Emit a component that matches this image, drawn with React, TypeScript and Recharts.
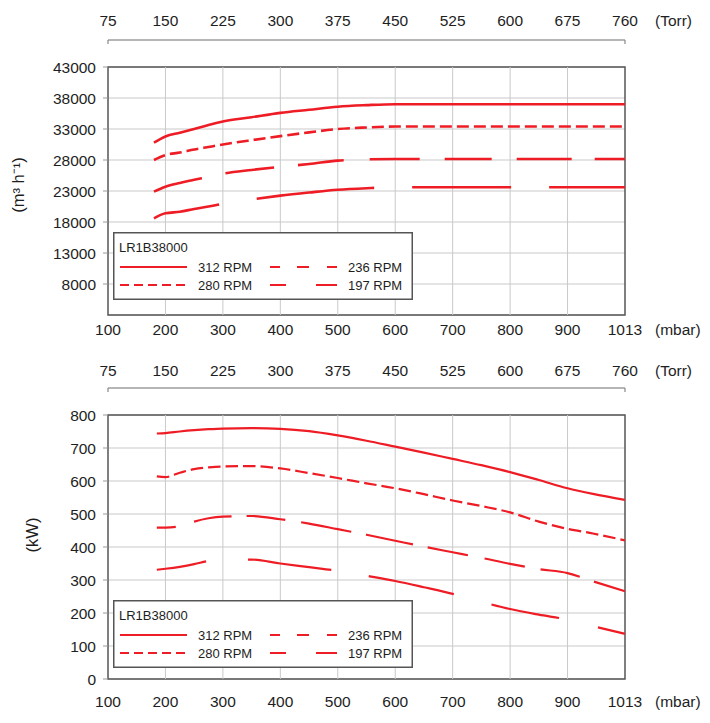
import {
  LineChart, Line, XAxis, YAxis, CartesianGrid,
  Legend, ReferenceLine, ReferenceArea,
} from 'recharts';

const FONT = '"Liberation Sans", Arial, sans-serif';
const RED = '#ee1c24';
const INK = '#1e1e1e';
const GRID = '#c9c9c9';
const MODEL = 'LR1B38000';

// axis labels
const mbarTicks = [100, 200, 300, 400, 500, 600, 700, 800, 900, 1013];
const torrTicks = ['75', '150', '225', '300', '375', '450', '525', '600', '675', '760'];
const flowTicks = [8000, 13000, 18000, 23000, 28000, 33000, 38000, 43000];
const powerTicks = [0, 100, 200, 300, 400, 500, 600, 700, 800];

// pumping speed (m3/h)
const flowMbar = [180, 200, 225, 250, 275, 300, 350, 400, 450, 500, 550, 600, 700, 800, 900, 1013];
const flow312 = [30800, 31800, 32400, 33000, 33650, 34200, 34900, 35600, 36100, 36600, 36850, 37000, 37000, 37000, 37000, 37000];
const flow280 = [28000, 28800, 29200, 29700, 30100, 30500, 31200, 31850, 32450, 33000, 33250, 33400, 33400, 33400, 33400, 33400];
const flow236 = [22900, 23700, 24300, 24800, 25300, 25800, 26400, 26900, 27350, 27900, 28100, 28150, 28150, 28150, 28150, 28150];
const flow197 = [18600, 19400, 19650, 20100, 20500, 20950, 21650, 22250, 22750, 23200, 23450, 23600, 23600, 23600, 23600, 23600];

// power (kW)
const powerMbar = [185, 200, 225, 250, 275, 300, 350, 400, 450, 500, 550, 600, 650, 700, 750, 800, 850, 900, 950, 1013];
const power312 = [744, 745, 750, 754, 757, 759, 760, 758, 751, 738, 722, 704, 686, 667, 648, 627, 603, 578, 561, 543];
const power280 = [614, 612, 625, 636, 641, 644, 645, 638, 624, 609, 593, 578, 560, 541, 524, 505, 477, 455, 441, 420];
const power236 = [459, 459, 463, 477, 487, 492, 494, 484, 471, 454, 437, 419, 401, 384, 367, 349, 333, 321, 296, 266];
const power197 = [331, 334, 340, 348, 358, 362, 362, 350, 339, 328, 313, 297, 278, 258, 234, 212, 195, 180, 160, 137];

const series = [
  { key: 'r312', name: '312 RPM' },
  { key: 'r280', name: '280 RPM' },
  { key: 'r236', name: '236 RPM' },
  { key: 'r197', name: '197 RPM' },
];

// the last gridline is 1013 mbar but sits one step after 900
const xPos = (m: number) => (m <= 900 ? m : 900 + ((m - 900) * 100) / 113);
const tickPos = mbarTicks.map(xPos);
const mbarLabel = (v: number) => String(mbarTicks[tickPos.indexOf(v)] ?? '');
const torrLabel = (v: number) => torrTicks[tickPos.indexOf(v)] ?? '';

const flowData = flowMbar.map((m, i) => ({
  x: xPos(m), r312: flow312[i], r280: flow280[i], r236: flow236[i], r197: flow197[i],
}));
const powerData = powerMbar.map((m, i) => ({
  x: xPos(m), r312: power312[i], r280: power280[i], r236: power236[i], r197: power197[i],
}));

const flowDash: Record<string, string | undefined> = {
  r312: undefined,
  r280: '12 5',
  r236: '50 24 49 24 46 26 50 25 47 25 55 23 60',
  r197: '67 38 118 38 99 38 100',
};
const powerDash: Record<string, string | undefined> = {
  r312: undefined,
  r280: '12.5 5',
  r236: '19 19 38 15 39 16 51 15 48 15 41 17 41 16 40 15 40',
  r197: '50 42 84 38 87 39 69 40 40',
};
const legendDash: Record<string, string | undefined> = {
  r312: undefined,
  r280: '9 5',
  r236: '10 17 12 18 10',
  r197: '16 30 21',
};

const tickStyle = { fontSize: 15.5, fill: INK, fontFamily: FONT };

function LegendBox() {
  return (
    <svg width={300} height={68} style={{ display: 'block' }}>
      <rect x={0.75} y={0.75} width={298.5} height={66.5} fill="#fff" stroke="#555" strokeWidth={1.5} />
      <text x={6} y={20} fontSize={13} fill={INK} fontFamily={FONT}>{MODEL}</text>
      {series.map((s, i) => {
        const lx = i < 2 ? 7 : 157;
        const ly = i % 2 === 0 ? 35 : 53;
        return (
          <g key={s.key}>
            <line x1={lx} x2={lx + 67} y1={ly} y2={ly} stroke={RED} strokeWidth={2} strokeDasharray={legendDash[s.key]} />
            <text x={lx + 78} y={ly + 4.5} fontSize={13} fill={INK} fontFamily={FONT}>{s.name}</text>
          </g>
        );
      })}
    </svg>
  );
}

type ChartProps = {
  data: any[];
  yTicks: number[];
  yMin: number;
  yTop: number;
  yLabel: string;
  yLabelX: number;
  dashes: Record<string, string | undefined>;
  height: number;
  marginTop: number;
  bottomHeight: number;
  mbarGap: number;
  torrGap: number;
  legendTop: number;
  strokeWidth: number;
};

function PerfChart(p: ChartProps) {
  const plotTop = p.marginTop + 30;
  const plotBottom = p.height - p.bottomHeight;
  // leave a 27px strip between the Torr axis and the top of the frame
  const yMax = p.yTop + (27 * (p.yTop - p.yMin)) / (plotBottom - plotTop - 27);
  const unitPx = (yMax - p.yMin) / (plotBottom - plotTop);

  return (
    <LineChart
      width={710}
      height={p.height}
      data={p.data}
      margin={{ top: p.marginTop, right: 85, left: 0, bottom: 0 }}
    >
      <CartesianGrid vertical={false} stroke={GRID} />
      {tickPos.slice(1, -1).map((x) => (
        <ReferenceLine
          key={x}
          segment={[{ x, y: p.yMin }, { x, y: p.yTop }]}
          stroke={GRID}
        />
      ))}
      {[tickPos[0], tickPos[tickPos.length - 1]].map((x) => (
        <ReferenceLine
          key={`t${x}`}
          segment={[{ x, y: yMax }, { x, y: yMax - 4 * unitPx }]}
          stroke="#888"
          strokeWidth={1.2}
        />
      ))}
      <XAxis
        dataKey="x"
        type="number"
        domain={[100, 1000]}
        allowDataOverflow
        ticks={tickPos}
        interval={0}
        tickFormatter={mbarLabel}
        axisLine={false}
        tickLine={false}
        tickSize={0}
        tickMargin={p.mbarGap}
        height={p.bottomHeight}
        tick={tickStyle}
        label={{
          content: (lp: any) => {
            const vb = lp.viewBox;
            return (
              <text x={vb.x + vb.width + 30} y={vb.y + p.mbarGap + 11} fontSize={15.5} fill={INK} fontFamily={FONT}>
                (mbar)
              </text>
            );
          },
        }}
      />
      <XAxis
        xAxisId="torr"
        dataKey="x"
        orientation="top"
        type="number"
        domain={[100, 1000]}
        allowDataOverflow
        ticks={tickPos}
        interval={0}
        tickFormatter={torrLabel}
        axisLine={{ stroke: '#888', strokeWidth: 1.2 }}
        tickLine={false}
        tickSize={0}
        tickMargin={p.torrGap}
        height={30}
        tick={tickStyle}
        label={{
          content: (lp: any) => {
            const vb = lp.viewBox;
            return (
              <text x={vb.x + vb.width + 30} y={vb.y + vb.height - p.torrGap} fontSize={15.5} fill={INK} fontFamily={FONT}>
                (Torr)
              </text>
            );
          },
        }}
      />
      <YAxis
        type="number"
        domain={[p.yMin, yMax]}
        ticks={p.yTicks}
        interval={0}
        allowDataOverflow
        axisLine={false}
        tickLine={{ stroke: '#999' }}
        tickSize={5}
        tickMargin={7}
        width={108}
        tick={tickStyle}
        label={{
          content: () => (
            <text
              x={p.yLabelX}
              y={185}
              transform={`rotate(-90 ${p.yLabelX} 185)`}
              textAnchor="middle"
              dominantBaseline="central"
              fontSize={16.5}
              fill={INK}
              fontFamily={FONT}
            >
              {p.yLabel}
            </text>
          ),
        }}
      />
      <ReferenceArea
        x1={100}
        x2={1000}
        y1={p.yMin}
        y2={p.yTop}
        fill="none"
        stroke="#555"
        strokeWidth={1.5}
        ifOverflow="visible"
      />
      {/* carries the Torr scale; draws nothing */}
      <Line
        xAxisId="torr"
        dataKey="r312"
        stroke="none"
        strokeWidth={0}
        dot={false}
        activeDot={false}
        legendType="none"
        isAnimationActive={false}
      />
      {series.map((s) => (
        <Line
          key={s.key}
          type="monotone"
          dataKey={s.key}
          name={s.name}
          stroke={RED}
          strokeWidth={p.strokeWidth}
          strokeDasharray={p.dashes[s.key]}
          dot={false}
          activeDot={false}
          isAnimationActive={false}
        />
      ))}
      <Legend
        layout="vertical"
        align="center"
        verticalAlign="middle"
        wrapperStyle={{ left: 113, top: p.legendTop, width: 300, height: 68 }}
        content={() => <LegendBox />}
      />
    </LineChart>
  );
}

export default function App() {
  return (
    <div style={{ position: 'absolute', left: 0, top: 0, width: 710, height: 723, background: '#fff' }}>
      <div style={{ position: 'absolute', left: 0, top: 0 }}>
        <PerfChart
          data={flowData}
          yTicks={flowTicks}
          yMin={3000}
          yTop={43000}
          yLabel="(m³ h⁻¹)"
          yLabelX={18}
          dashes={flowDash}
          height={345}
          marginTop={10}
          bottomHeight={30}
          mbarGap={9}
          torrGap={14}
          legendTop={232}
          strokeWidth={2.6}
        />
      </div>
      <div style={{ position: 'absolute', left: 0, top: 350 }}>
        <PerfChart
          data={powerData}
          yTicks={powerTicks}
          yMin={0}
          yTop={800}
          yLabel="(kW)"
          yLabelX={32}
          dashes={powerDash}
          height={373}
          marginTop={8}
          bottomHeight={44}
          mbarGap={17}
          torrGap={12}
          legendTop={250}
          strokeWidth={2.2}
        />
      </div>
    </div>
  );
}
